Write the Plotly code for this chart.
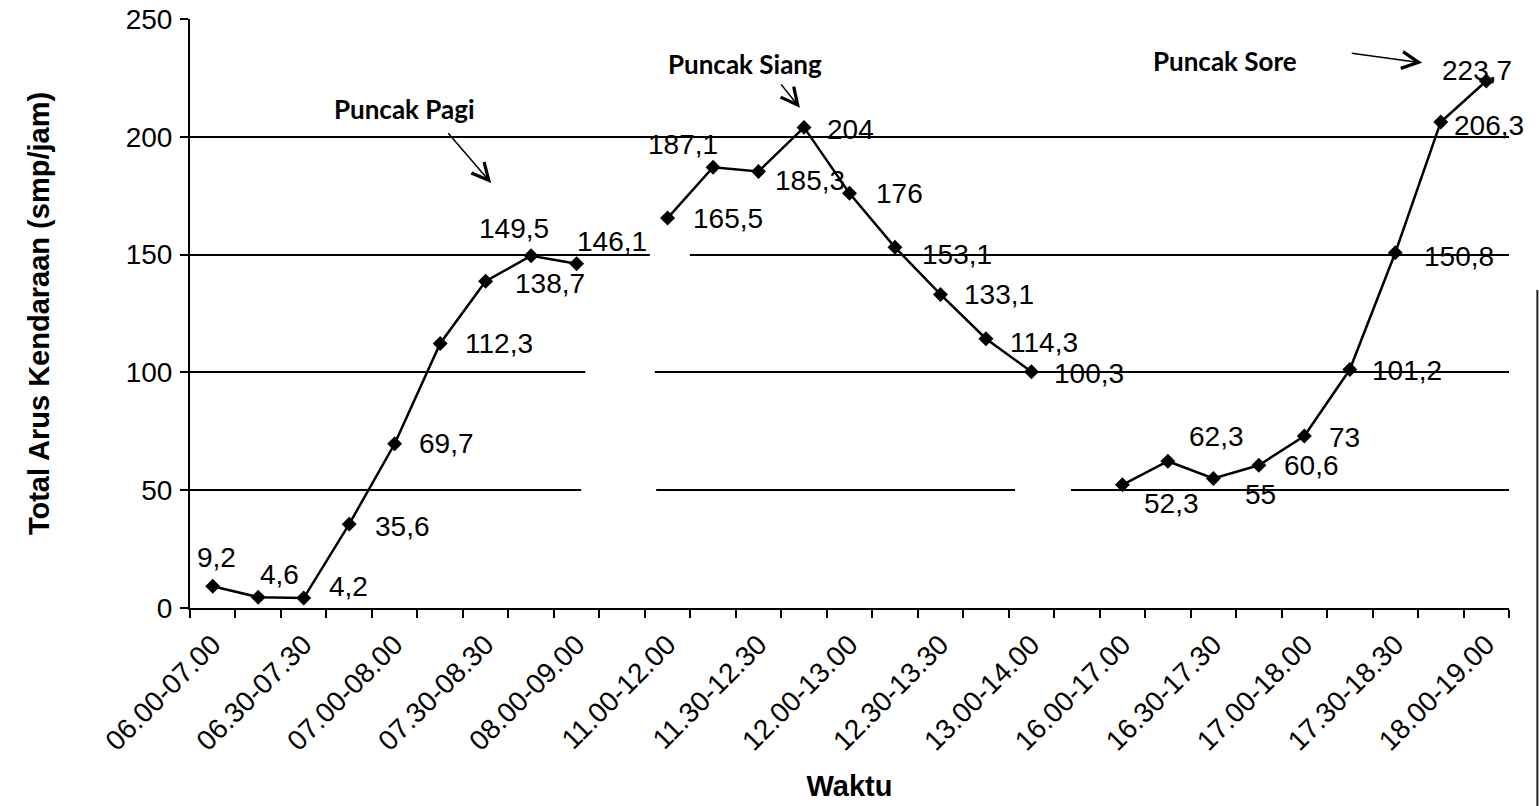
import plotly.graph_objects as go

# Total traffic flow (smp/jam) per one-hour window, three survey sessions
pagi = [9.2, 4.6, 4.2, 35.6, 69.7, 112.3, 138.7, 149.5, 146.1]
siang = [165.5, 187.1, 185.3, 204, 176, 153.1, 133.1, 114.3, 100.3]
sore = [52.3, 62.3, 55, 60.6, 73, 101.2, 150.8, 206.3, 223.7]

# Axis labels shown on every other window
tick_labels = [
    "06.00-07.00", "06.30-07.30", "07.00-08.00", "07.30-08.30", "08.00-09.00",
    "11.00-12.00", "11.30-12.30", "12.00-13.00", "12.30-13.30", "13.00-14.00",
    "16.00-17.00", "16.30-17.30", "17.00-18.00", "17.30-18.30", "18.00-19.00",
]

peaks = ["Puncak Pagi", "Puncak Siang", "Puncak Sore"]

# sessions are separated by one empty slot (line break)
arus = pagi + [None] + siang + [None] + sore
x = list(range(len(arus)))

# per-point label placement: (xanchor, xshift px, yshift px)
label_place = [
    ("center", 4, 29), ("left", 0, 23), ("left", 23, 12), ("left", 24, -2),
    ("left", 22, 0), ("left", 23, 0), ("left", 27, -2), ("center", -17, 27),
    ("left", -2, 22),
    None,
    ("left", 23, 0), ("center", -30, 23), ("left", 14, -9), ("left", 21, -2),
    ("left", 24, 0), ("left", 25, -7), ("left", 22, 0), ("left", 22, -4),
    ("left", 21, -2),
    None,
    ("left", 20, -19), ("left", 19, 25), ("left", 30, -16), ("left", 23, 0),
    ("left", 23, -1), ("left", 20, -1), ("left", 27, -4), ("left", 11, -4),
    ("center", -9, 10),
]

BLACK = "#000000"
SANS = "Liberation Sans, Arial, sans-serif"
NUM_FONT = dict(family=SANS, size=28, color=BLACK)
NOTE_FONT = dict(family="Lato, sans-serif", size=26, color=BLACK, weight="bold")
TITLE_FONT = dict(family=SANS, size=29, color=BLACK)

fig = go.Figure()

fig.add_trace(go.Scatter(
    x=x, y=arus, mode="lines+markers", connectgaps=False,
    line=dict(color=BLACK, width=2.5),
    marker=dict(symbol="diamond", size=11.5, color=BLACK),
    hoverinfo="x+y",
))


def fmt(v):
    return f"{v:g}".replace(".", ",")


for xi, v, place in zip(x, arus, label_place):
    if v is None:
        continue
    anchor, dx, dy = place
    fig.add_annotation(
        x=xi, y=v, text=fmt(v), showarrow=False,
        xanchor=anchor, yanchor="middle", xshift=dx, yshift=dy,
        font=NUM_FONT,
    )

# peak notes: text and pointer arrows
note_pos = [(4.21, 212), (11.70, 231), (22.26, 232)]
arrows = [
    ((5.15, 202.1), (6.12, 180.4)),
    ((12.47, 222.9), (12.91, 212.3)),
    ((25.01, 235.6), (26.59, 231.4)),
]
for name, (nx, ny) in zip(peaks, note_pos):
    fig.add_annotation(x=nx, y=ny, text=name, showarrow=False,
                       xanchor="center", yanchor="middle", font=NOTE_FONT)
for (tail, head) in arrows:
    fig.add_annotation(
        x=head[0], y=head[1], ax=tail[0], ay=tail[1],
        xref="x", yref="y", axref="x", ayref="y",
        text="", showarrow=True, arrowhead=5, arrowsize=2.2,
        arrowwidth=1.5, arrowcolor=BLACK, standoff=0, startstandoff=0,
    )

# gridline breaks around the empty slots between sessions
for x0, x1, yc in [(9.61, 10.49, 150), (8.19, 9.72, 100), (8.10, 9.75, 50),
                   (17.64, 18.87, 50)]:
    fig.add_shape(type="rect", xref="x", yref="y", x0=x0, x1=x1,
                  y0=yc - 3, y1=yc + 3, fillcolor="white",
                  line=dict(width=0), layer="between")

# outer frame edge on the right
fig.add_shape(type="line", xref="paper", yref="paper",
              x0=1.0215, x1=1.0215, y0=0.54, y1=-0.34,
              line=dict(color="#222222", width=2))

fig.update_xaxes(
    range=[-0.5, len(arus) - 0.5],
    tickmode="array", tickvals=x[::2], ticktext=tick_labels,
    tickangle=-45, ticks="", tickfont=NUM_FONT, ticklabelstandoff=7,
    showline=True, linecolor=BLACK, linewidth=2,
    showgrid=False, zeroline=False,
    minor=dict(tickmode="array", tickvals=[i - 0.5 for i in range(len(arus) + 1)],
               ticks="outside", ticklen=8, tickwidth=2, tickcolor=BLACK,
               showgrid=False),
    title=dict(text="<b>Waktu</b>", font=TITLE_FONT, standoff=20),
    automargin=False,
)
fig.update_yaxes(
    range=[0, 250], tickmode="array", tickvals=[0, 50, 100, 150, 200, 250],
    ticks="outside", ticklen=8, tickwidth=2, tickcolor=BLACK, tickfont=NUM_FONT,
    ticklabelstandoff=2,
    showline=True, linecolor=BLACK, linewidth=2,
    showgrid=True, gridcolor=BLACK, gridwidth=2, zeroline=False,
    title=dict(text="<b>Total Arus Kendaraan (smp/jam)</b>", font=TITLE_FONT,
               standoff=68),
    automargin=False,
)

fig.update_layout(
    width=1539, height=806,
    margin=dict(l=190, r=30, t=19, b=198),
    paper_bgcolor="white", plot_bgcolor="white",
    showlegend=False,
    font=NUM_FONT,
)

fig.write_html("out.html")
